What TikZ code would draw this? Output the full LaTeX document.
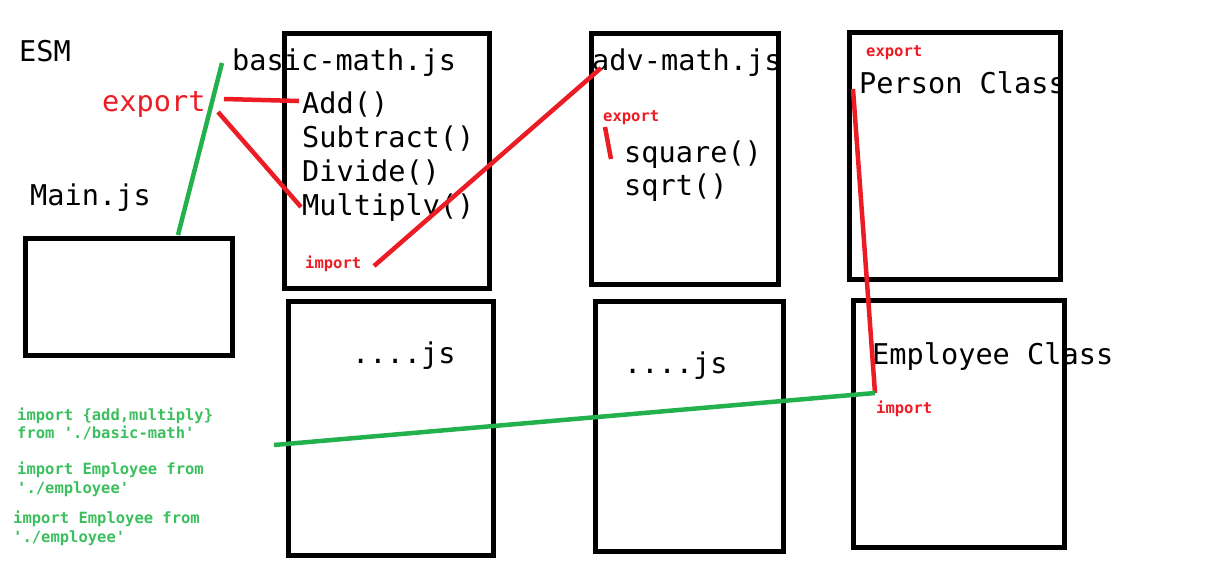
\documentclass[tikz,border=0pt]{standalone}
\usepackage{fontspec}
\setmonofont{DejaVu Sans Mono}
\definecolor{paintred}{HTML}{EC1C24}
\definecolor{paintgreen}{HTML}{22B14C}
\definecolor{textgreen}{HTML}{3CBF5E}

\begin{document}
\begin{tikzpicture}[%
  x=1pt, y=-1pt,
  file/.style={rectangle, draw, line width=5pt, inner sep=0pt},
  big/.style={anchor=base west, inner sep=0pt, font=\ttfamily\fontsize{28.6}{34}\selectfont},
  small/.style={anchor=base west, inner sep=0pt, font=\ttfamily\bfseries\fontsize{15.5}{18}\selectfont},
  redline/.style={paintred, line width=4.5pt},
  greenline/.style={paintgreen, line width=4.5pt},]
  \useasboundingbox (0,0) rectangle (1216,565);
  % files
  \node[file, minimum width=207pt, minimum height=117pt] (main) at (129,297) {};
  \node[file, minimum width=205pt, minimum height=255pt] (basic) at (387,161) {};
  \node[file, minimum width=205pt, minimum height=254pt] (dotsa) at (391,428.5) {};
  \node[file, minimum width=187pt, minimum height=251pt] (adv) at (685,159) {};
  \node[file, minimum width=188pt, minimum height=250pt] (dotsb) at (689.5,426.5) {};
  \node[file, minimum width=211pt, minimum height=247pt] (person) at (955,156) {};
  \node[file, minimum width=211pt, minimum height=247pt] (employee) at (959,424) {};
  % labels
  \node[big] (esm) at (19,61) {ESM};
  \node[big] (basicname) at (232,70) {basic-math.js};
  \node[big, text=paintred] (exportbig) at (102,111) {export};
  \node[big] (add) at (302,113) {Add()};
  \node[big] (sub) at (302,147) {Subtract()};
  \node[big] (div) at (302,181) {Divide()};
  \node[big] (mul) at (302,215) {Multiply()};
  \node[big] (mainname) at (30,205) {Main.js};
  \node[small, text=paintred] (importa) at (305,268) {import};
  \node[big] (advname) at (592,70) {adv-math.js};
  \node[small, text=paintred] (exporta) at (603,121) {export};
  \node[big] (square) at (624,162) {square()};
  \node[big] (sqrt) at (624,195) {sqrt()};
  \node[small, text=paintred] (exportb) at (866,56) {export};
  \node[big] (personname) at (859,93) {Person Class};
  \node[big] (dotsaname) at (352,363) {....js};
  \node[big] (dotsbname) at (624,373) {....js};
  \node[big] (employeename) at (872,364) {Employee Class};
  \node[small, text=paintred] (importb) at (876,413) {import};
  % import lines of main
  \node[small, text=textgreen] (impa) at (17,420) {import \{add,multiply\}};
  \node[small, text=textgreen] (impb) at (17,438) {from './basic-math'};
  \node[small, text=textgreen] (impc) at (17,474) {import Employee from};
  \node[small, text=textgreen] (impd) at (17,493) {'./employee'};
  \node[small, text=textgreen] (impe) at (13,523) {import Employee from};
  \node[small, text=textgreen] (impf) at (13,542) {'./employee'};
  % connector ends
  \coordinate (g1) at (222,63);
  \coordinate (g2) at (178,235);
  \coordinate (r1) at (224,99);
  \coordinate (r2) at (299,101);
  \coordinate (r3) at (218,112);
  \coordinate (r4) at (301,207);
  \coordinate (r5) at (374,266);
  \coordinate (r6) at (601,68);
  \coordinate (r7) at (605,127);
  \coordinate (r8) at (611,159);
  \coordinate (r9) at (853,89);
  \coordinate (r10) at (875,393);
  \coordinate (g3) at (274,445);
  \draw[greenline] (g1) -- (g2);
  \draw[redline] (r1) -- (r2);
  \draw[redline] (r3) -- (r4);
  \draw[redline] (r5) -- (r6);
  \draw[redline] (r7) -- (r8);
  \draw[redline] (r9) -- (r10);
  \draw[greenline] (g3) -- (r10);
\end{tikzpicture}
\end{document}
